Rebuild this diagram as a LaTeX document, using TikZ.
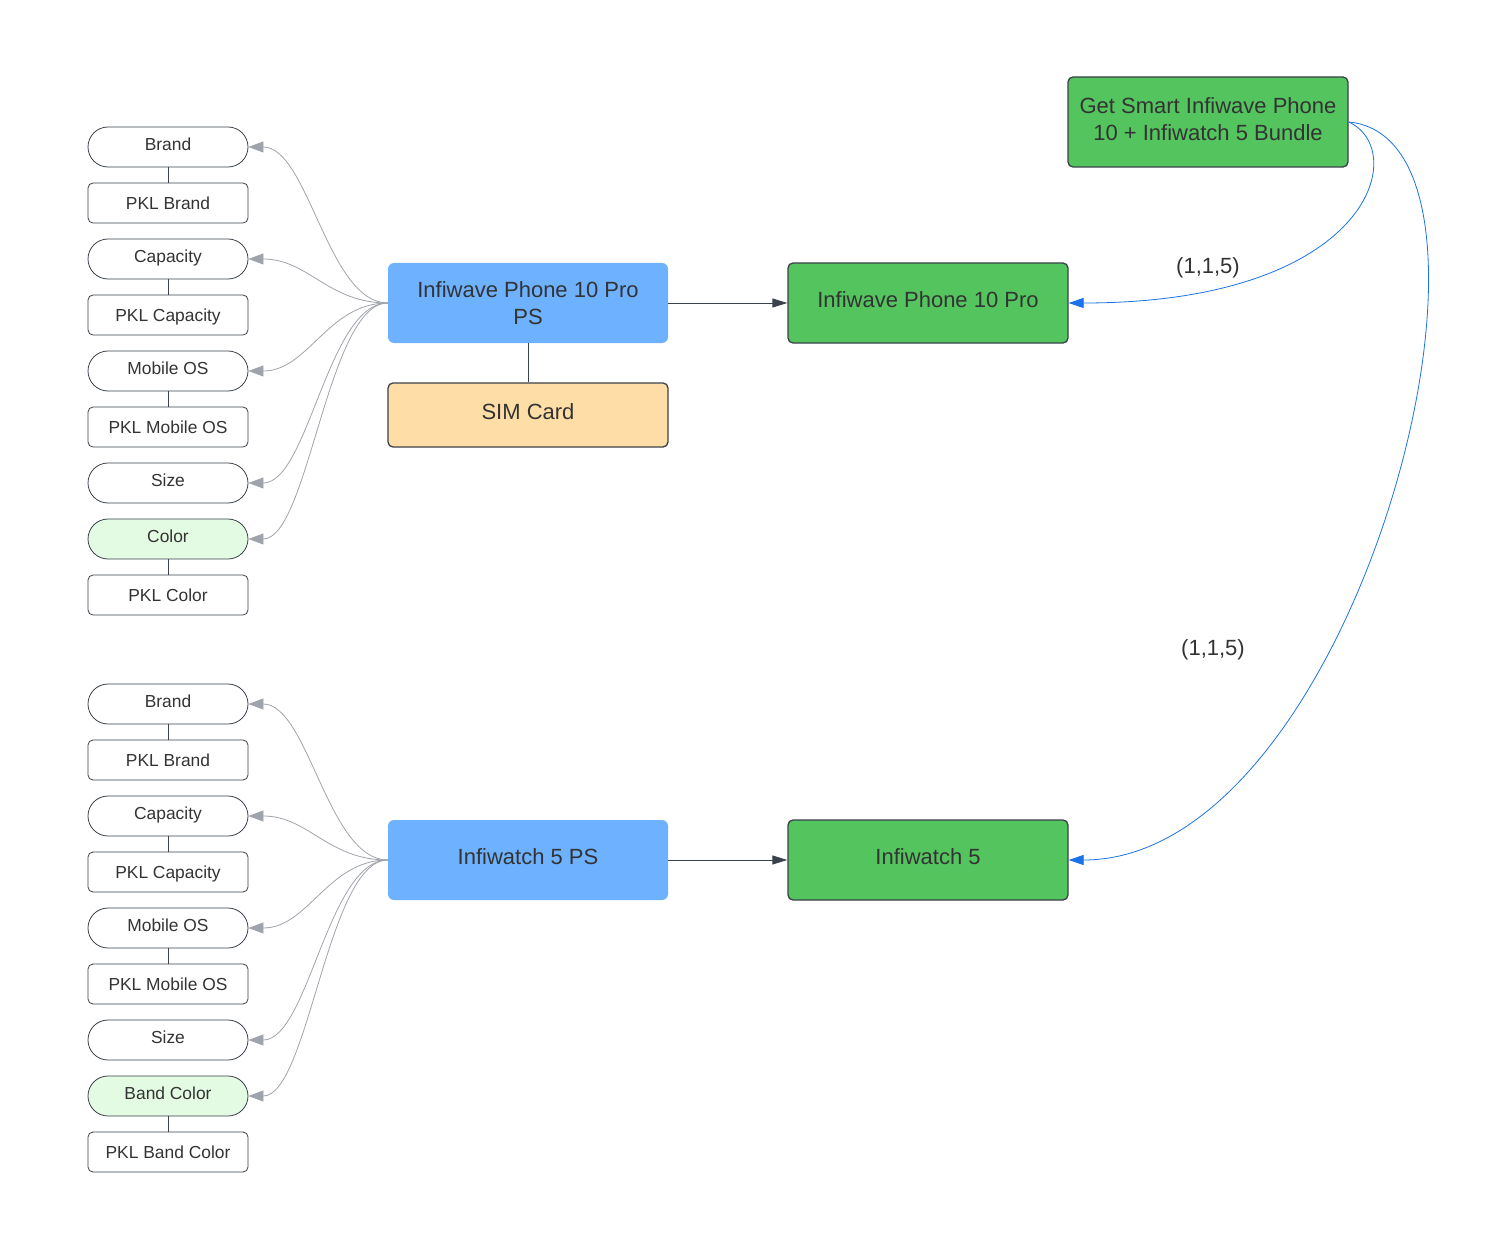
\documentclass[tikz,border=0pt]{standalone}
\usepackage{fontspec}
\setmainfont{Liberation Sans}
\usetikzlibrary{arrows.meta}
\definecolor{txt}{HTML}{333333}
\definecolor{bord}{HTML}{3A414A}
\definecolor{psblue}{HTML}{6DB1FF}
\definecolor{prgreen}{HTML}{54C45E}
\definecolor{simor}{HTML}{FFDDA6}
\definecolor{ltgreen}{HTML}{E3FAE3}
\definecolor{conngray}{HTML}{9FA3AB}
\definecolor{linkblue}{HTML}{1A73E8}
\tikzset{
  attr/.style={draw=bord, line width=0.8pt, rounded corners=20pt, minimum width=160pt, minimum height=40pt, inner sep=0pt, text=txt, font=\fontsize{17.4}{20}\selectfont, text height=12.5pt, text depth=6pt},
  pkl/.style={draw=bord, line width=0.8pt, rounded corners=5pt, minimum width=160pt, minimum height=40pt, inner sep=0pt, text=txt, font=\fontsize{17.4}{20}\selectfont, text height=12.5pt, text depth=0pt},
  varattr/.style={attr, fill=ltgreen},
  oneline/.style={text height=15.75pt, text depth=5.95pt},
  psbox/.style={fill=psblue, rounded corners=6pt, minimum width=280pt, minimum height=80pt, inner sep=0pt, text=txt, align=center, font=\fontsize{22}{27}\selectfont},
  prbox/.style={fill=prgreen, draw=bord, line width=1.3pt, rounded corners=5pt, minimum width=280pt, minimum height=80pt, inner sep=0pt, text=txt, align=center, font=\fontsize{22}{27}\selectfont},
  simbox/.style={fill=simor, draw=bord, line width=1.3pt, rounded corners=5pt, minimum width=280pt, minimum height=64pt, inner sep=0pt, text=txt, font=\fontsize{22}{27}\selectfont, oneline},
  tie/.style={draw=bord, line width=0.8pt},
  attrarrow/.style={draw=conngray, line width=0.8pt, -{Triangle[length=15pt,width=11pt]}},
  darrow/.style={draw=bord, line width=0.8pt, -{Triangle[length=15pt,width=9pt]}},
  barrow/.style={draw=linkblue, line width=0.8pt, -{Triangle[length=15pt,width=10pt]}},
  lbl/.style={text=txt, font=\fontsize{22}{26}\selectfont}
}
\begin{document}
\begin{tikzpicture}[x=1pt,y=-1pt]
\useasboundingbox (0,0) rectangle (1494,1249);
% top group
\node[attr] (b1) at (168,147) {Brand};
\node[pkl] (pb1) at (168,203) {PKL Brand};
\node[attr] (c1) at (168,259) {Capacity};
\node[pkl] (pc1) at (168,315) {PKL Capacity};
\node[attr] (m1) at (168,371) {Mobile OS};
\node[pkl] (pm1) at (168,427) {PKL Mobile OS};
\node[attr] (s1) at (168,483) {Size};
\node[varattr] (col1) at (168,539) {Color};
\node[pkl] (pcol1) at (168,595) {PKL Color};
\draw[tie] (b1) -- (pb1);
\draw[tie] (c1) -- (pc1);
\draw[tie] (m1) -- (pm1);
\draw[tie] (col1) -- (pcol1);
\node[psbox] (ps1) at (528,303) {Infiwave Phone 10 Pro\\PS};
\node[simbox] (sim) at (528,415) {SIM Card};
\node[prbox, oneline] (pr1) at (928,303) {Infiwave Phone 10 Pro};
\draw[tie] (ps1) -- (sim);
\draw[darrow] (ps1) -- (pr1);
\foreach \t in {b1,c1,m1,s1,col1}
  \draw[attrarrow] (ps1.west) .. controls +(-60,0) and +(60,0) .. (\t.east);
% bottom group
\node[attr] (b2) at (168,704) {Brand};
\node[pkl] (pb2) at (168,760) {PKL Brand};
\node[attr] (c2) at (168,816) {Capacity};
\node[pkl] (pc2) at (168,872) {PKL Capacity};
\node[attr] (m2) at (168,928) {Mobile OS};
\node[pkl] (pm2) at (168,984) {PKL Mobile OS};
\node[attr] (s2) at (168,1040) {Size};
\node[varattr] (col2) at (168,1096) {Band Color};
\node[pkl] (pcol2) at (168,1152) {PKL Band Color};
\draw[tie] (b2) -- (pb2);
\draw[tie] (c2) -- (pc2);
\draw[tie] (m2) -- (pm2);
\draw[tie] (col2) -- (pcol2);
\node[psbox, oneline] (ps2) at (528,860) {Infiwatch 5 PS};
\node[prbox, oneline] (pr2) at (928,860) {Infiwatch 5};
\draw[darrow] (ps2) -- (pr2);
\foreach \t in {b2,c2,m2,s2,col2}
  \draw[attrarrow] (ps2.west) .. controls +(-60,0) and +(60,0) .. (\t.east);
% bundle
\node[prbox, minimum height=90pt] (bun) at (1208,122) {\raisebox{4pt}{\begin{tabular}{@{}c@{}}Get Smart Infiwave Phone\\10 + Infiwatch 5 Bundle\end{tabular}}};
\draw[barrow] (bun.east) .. controls +(62,28) and +(302,0) .. (pr1.east);
\draw[barrow] (bun.east) .. controls +(192,18) and +(292,0) .. (pr2.east);
\node[lbl] (l1) at (1208,268) {(1,1,5)};
\node[lbl] (l2) at (1213,650) {(1,1,5)};
\end{tikzpicture}
\end{document}
